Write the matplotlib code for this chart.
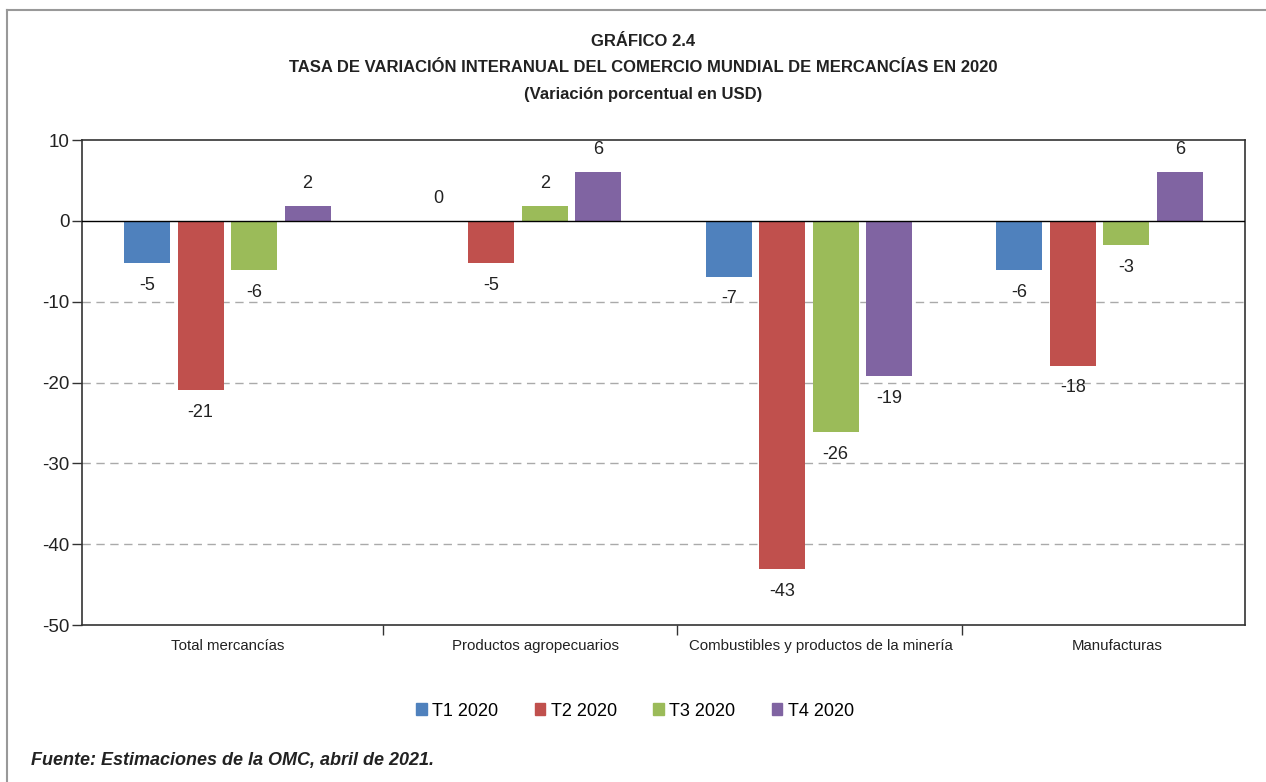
import matplotlib
matplotlib.use("Agg")
import matplotlib.pyplot as plt
import matplotlib.patches as mpatches
from matplotlib.lines import Line2D
import numpy as np

plt.rcParams['font.family'] = ['Liberation Sans', 'DejaVu Sans']

categories = ["Total mercancías", "Productos agropecuarios",
              "Combustibles y productos de la minería", "Manufacturas"]
series_names = ["T1 2020", "T2 2020", "T3 2020", "T4 2020"]
t1 = [-5.2, 0.0, -6.9, -6.1]
t2 = [-20.9, -5.2, -43.1, -17.9]
t3 = [-6.1, 1.8, -26.1, -3.0]
t4 = [1.8, 6.1, -19.2, 6.1]
labels_t1 = [-5, 0, -7, -6]
labels_t2 = [-21, -5, -43, -18]
labels_t3 = [-6, 2, -26, -3]
labels_t4 = [2, 6, -19, 6]
colors = ["#4F81BD", "#C0504D", "#9BBB59", "#8064A2"]
yticks = [10, 0, -10, -20, -30, -40, -50]

W, H = 1266, 782
fig = plt.figure(figsize=(W / 100, H / 100), dpi=100)
ax = fig.add_axes([82 / W, 1 - 625 / H, (1245 - 82) / W, (625 - 140) / H])

series = [t1, t2, t3, t4]
labs = [labels_t1, labels_t2, labels_t3, labels_t4]
x = np.arange(len(categories))
width = 0.158
step = 0.184
offsets = [(-1.5 + i) * step for i in range(4)]

for i, (vals, lab) in enumerate(zip(series, labs)):
    bars = ax.bar(x + offsets[i], vals, width, color=colors[i], zorder=3)
    for b, v, l in zip(bars, vals, lab):
        cx = b.get_x() + b.get_width() / 2
        if v >= 0:
            ax.annotate(f"{l}", (cx, v), xytext=(0, 10), textcoords="offset points",
                        ha="center", va="bottom", fontsize=13, color="#222222")
        else:
            ax.annotate(f"{l}", (cx, v), xytext=(0, -10), textcoords="offset points",
                        ha="center", va="top", fontsize=13, color="#222222")

ax.set_xlim(-0.5, len(categories) - 0.5)
ax.set_ylim(-50, 10)
ax.set_yticks(yticks)
ax.set_yticklabels([str(t) for t in yticks], fontsize=13.5, color="#222222")
for t in [-10, -20, -30, -40]:
    ax.axhline(t, color="#AAAAAA", lw=1, ls=(0, (6, 4)), zorder=1)
ax.axhline(0, color="black", lw=1, zorder=4)

# category label positions and separators (layout, as drawn in the original)
label_pos = [0.0, 1.06, 2.04, 3.06]
sep_pos = [0.535, 1.547, 2.527]
ax.set_xticks(label_pos)
ax.set_xticklabels(categories, fontsize=10.8, color="#222222")
ax.tick_params(axis="x", which="major", length=0, pad=10)
ax.set_xticks(sep_pos, minor=True)
ax.tick_params(axis="x", which="minor", length=7, width=1, color="#333333", direction="out")
ax.tick_params(axis="y", length=7, width=1, color="#333333", pad=2)
for s in ax.spines.values():
    s.set_color("#333333")
    s.set_linewidth(1.2)

# Titles
tkw = dict(ha="center", va="center", fontsize=12, fontweight="bold", color="#222222")
fig.text(643 / W, 1 - 42 / H, "GRÁFICO 2.4", **tkw)
fig.text(643 / W, 1 - 68 / H,
         "TASA DE VARIACIÓN INTERANUAL DEL COMERCIO MUNDIAL DE MERCANCÍAS EN 2020", **tkw)
fig.text(643 / W, 1 - 94 / H, "(Variación porcentual en USD)", **tkw)

# Legend
handles = [mpatches.Patch(color=c, label=n) for c, n in zip(colors, series_names)]
fig.legend(handles=handles, loc="center", bbox_to_anchor=(635 / W, 1 - 711 / H), ncol=4,
           frameon=False, fontsize=13, handlelength=0.6, handleheight=0.6,
           handletextpad=0.3, columnspacing=2.0)

# Source
fig.text(31 / W, 1 - 760 / H, "Fuente: Estimaciones de la OMC, abril de 2021.",
         ha="left", va="center", fontsize=13, fontweight="bold", style="italic",
         color="#222222")

# Outer frame lines
fig.add_artist(Line2D([7 / W, 1], [1 - 10 / H, 1 - 10 / H], color="#999999", lw=1.5,
                      transform=fig.transFigure))
fig.add_artist(Line2D([7 / W, 7 / W], [0, 1 - 10 / H], color="#999999", lw=1.5,
                      transform=fig.transFigure))

fig.savefig("out.png", dpi=100)
